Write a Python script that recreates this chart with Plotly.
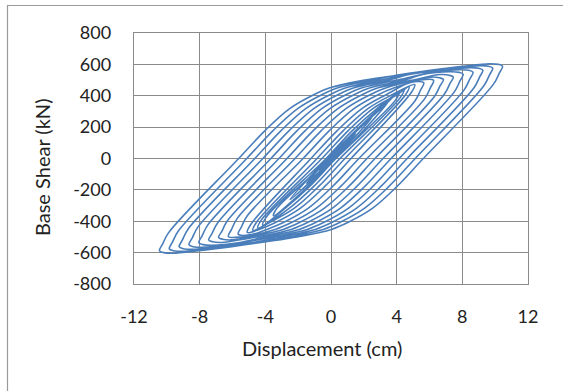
import plotly.graph_objects as go

# Hysteresis path: one list per half-cycle (displacement cm, base shear kN)
half_cycle_disp = [
    [0, 0.35, 0.7],
    [0.35, 0, -0.35, -0.7],
    [0, 0.75, 1.5],
    [0.75, 0, -0.75, -1.5],
    [-0.5, 0.5, 1.5, 2.5],
    [1.25, 0, -1.25, -2.5],
    [-1, 0.5, 2, 3.5],
    [2, 0, -2, -3.5],
    [-3.3, -0.05, 1.55, 3.05, 4.15],
    [3.95, 0.3, -1.3, -2.8, -4.15],
    [-3.95, -0.3, 1.3, 2.8, 4.45],
    [4.25, 0.55, -1.05, -2.55, -4.45],
    [-4.25, -0.55, 1.05, 2.55, 4.05, 4.75],
    [4.55, 0.85, -0.75, -2.25, -3.75, -4.75],
    [-4.55, -0.85, 0.75, 2.25, 3.75, 5.1],
    [4.9, 1.22, -0.38, -1.88, -3.38, -4.38, -5.1],
    [-4.9, -1.22, 0.38, 1.88, 3.38, 4.85, 5.65],
    [5.45, 5.1, 1.7, 0.1, -1.4, -2.9, -3.9, -4.85, -5.65],
    [-5.45, -5.1, -1.7, -0.1, 1.4, 2.9, 3.9, 5.45, 6.25],
    [6.05, 5.7, 2.19, 0.59, -0.91, -2.41, -3.41, -5.45, -6.25],
    [-6.05, -5.7, -2.19, -0.59, 0.91, 2.41, 3.41, 6.05, 6.6, 6.85],
    [6.65, 6.3, 2.68, 1.08, -0.42, -1.92, -2.92, -4.92, -6.05, -6.6, -6.85],
    [-6.65, -6.3, -2.68, -1.08, 0.42, 1.92, 2.92, 4.92, 6.65, 7.2, 7.45],
    [7.25, 6.9, 3.17, 1.57, 0.07, -1.43, -2.43, -4.43, -6.65, -7.2, -7.45],
    [-7.25, -6.9, -3.17, -1.57, -0.07, 1.43, 2.43, 4.43, 5.65, 7.25, 7.8, 8.05],
    [7.85, 7.5, 3.66, 2.06, 0.56, -0.94, -1.94, -3.94, -5.65, -7.25, -7.8, -8.05],
    [-7.85, -7.5, -3.66, -2.06, -0.56, 0.94, 1.94, 3.94, 6.25, 7.85, 8.4, 8.65],
    [8.45, 8.1, 4.15, 2.55, 1.05, -0.45, -1.45, -3.45, -6.25, -7.85, -8.4, -8.65],
    [-8.45, -8.1, -4.15, -2.55, -1.05, 0.45, 1.45, 3.45, 4.85, 6.85, 8.45, 9.0, 9.25],
    [9.05, 8.7, 4.64, 3.04, 1.54, 0.04, -0.96, -2.96, -4.85, -6.85, -8.45, -9.0, -9.25],
    [-9.05, -8.7, -4.64, -3.04, -1.54, -0.04, 0.96, 2.96, 5.45, 7.45, 9.05, 9.6, 9.85],
    [9.65, 9.3, 5.13, 3.53, 2.03, 0.53, -0.47, -2.47, -3.45, -5.45, -7.45, -9.05, -9.6, -9.85],
    [-9.65, -9.3, -5.13, -3.53, -2.03, -0.53, 0.47, 2.47, 4.05, 6.05, 8.05, 9.65, 10.2, 10.45],
    [10.25, 9.9, 5.62, 4.02, 2.52, 1.02, 0.02, -1.98, -4.05, -6.05, -8.05, -9.65, -10.2, -10.45],
    [-10.25, -9.9, -5.62, -4.02, -2.52, -1.02, -0.02, 1.98, 4.05],
]
half_cycle_shear = [
    [0, 38, 74],
    [33, -3, -40, -74],
    [5, 84, 158],
    [70, -10, -88, -158],
    [-41, 65, 169, 262],
    [115, -18, -147, -262],
    [-85, 76, 228, 365],
    [182, -30, -236, -365],
    [-318, 0, 178, 318, 425],
    [375, 0, -178, -318, -425],
    [-375, 0, 178, 318, 443],
    [393, 0, -178, -318, -443],
    [-393, 0, 178, 318, 408, 458],
    [408, 0, -178, -318, -408, -458],
    [-408, 0, 178, 318, 408, 472],
    [422, 0, -178, -318, -408, -452, -472],
    [-422, 0, 178, 318, 408, 485, 483],
    [435, 365, 0, -178, -318, -408, -452, -485, -483],
    [-435, -365, 0, 178, 318, 408, 452, 500, 498],
    [450, 380, 0, -178, -318, -408, -452, -500, -498],
    [-450, -380, 0, 178, 318, 408, 452, 519, 515, 503],
    [465, 395, 0, -178, -318, -408, -452, -498, -519, -515, -503],
    [-465, -395, 0, 178, 318, 408, 452, 498, 535, 531, 519],
    [479, 409, 0, -178, -318, -408, -452, -498, -535, -531, -519],
    [-479, -409, 0, 178, 318, 408, 452, 498, 537, 553, 549, 537],
    [493, 423, 0, -178, -318, -408, -452, -498, -537, -553, -549, -537],
    [-493, -423, 0, 178, 318, 408, 452, 498, 550, 566, 562, 550],
    [506, 436, 0, -178, -318, -408, -452, -498, -550, -566, -562, -550],
    [-506, -436, 0, 178, 318, 408, 452, 498, 537, 563, 579, 575, 563],
    [519, 449, 0, -178, -318, -408, -452, -498, -537, -563, -579, -575, -563],
    [-519, -449, 0, 178, 318, 408, 452, 498, 550, 576, 592, 588, 576],
    [532, 462, 0, -178, -318, -408, -452, -498, -520, -550, -576, -592, -588, -576],
    [-532, -462, 0, 178, 318, 408, 452, 498, 532, 562, 588, 604, 600, 588],
    [544, 474, 0, -178, -318, -408, -452, -498, -532, -562, -588, -604, -600, -588],
    [-544, -474, 0, 178, 318, 408, 452, 498, 530],
]

x_tick_vals = [-12, -8, -4, 0, 4, 8, 12]
x_tick_text = ["-12", "-8", "-4", "0", "4", "8", "12"]
y_tick_vals = [-800, -600, -400, -200, 0, 200, 400, 600, 800]
y_tick_text = ["-800", "-600", "-400", "-200", "0", "200", "400", "600", "800"]
x_title = "Displacement (cm)"
y_title = "Base Shear (kN)"

disp = [v for part in half_cycle_disp for v in part]
shear = [v for part in half_cycle_shear for v in part]

W, H = 563, 391
L, R, T, B = 134, 528, 33, 284

def px_to_paper_x(px):
    return (px - L) / (R - L)

def px_to_paper_y(py):
    return (B - py) / (B - T)

grid = "#8a8a8a"
text_col = "#222222"
font_family = "Lato, 'Open Sans', sans-serif"

fig = go.Figure()
fig.add_trace(go.Scatter(
    x=disp, y=shear, mode="lines",
    line=dict(color="#4a7ebb", width=1.6, shape="spline", smoothing=1.0),
    hoverinfo="skip", showlegend=False,
))

axis_common = dict(
    showgrid=True, gridcolor=grid, gridwidth=1.4,
    showline=True, linecolor=grid, linewidth=1.4, mirror=True,
    zeroline=False, ticks="outside", tickcolor="rgba(0,0,0,0)",
    tickfont=dict(family=font_family, size=18, color=text_col),
)
fig.update_xaxes(range=[-12, 12], tickvals=x_tick_vals, ticktext=x_tick_text,
                 ticklen=16, **axis_common)
fig.update_yaxes(range=[-800, 800], tickvals=y_tick_vals, ticktext=y_tick_text,
                 ticklen=18, **axis_common)

fig.add_annotation(
    text=x_title, xref="paper", yref="paper",
    x=px_to_paper_x(322), y=px_to_paper_y(348),
    xanchor="center", yanchor="middle", showarrow=False,
    font=dict(family=font_family, size=20, color=text_col),
)
fig.add_annotation(
    text=y_title, xref="paper", yref="paper",
    x=px_to_paper_x(42), y=px_to_paper_y(168), textangle=-90,
    xanchor="center", yanchor="middle", showarrow=False,
    font=dict(family=font_family, size=20, color=text_col),
)
# outer chart border (left and top edges visible in the crop)
fig.add_shape(
    type="rect", xref="paper", yref="paper",
    x0=px_to_paper_x(7.5), x1=px_to_paper_x(575),
    y0=px_to_paper_y(400), y1=px_to_paper_y(5.5),
    line=dict(color="#9a9a9a", width=1.2), layer="below",
)

fig.update_layout(
    width=W, height=H, autosize=False,
    margin=dict(l=L, r=W - R, t=T, b=H - B, pad=0),
    paper_bgcolor="white", plot_bgcolor="white",
)

fig.write_html("out.html", config={"displayModeBar": False},
               post_script="document.body.style.margin='0px';document.body.style.overflow='hidden';")
